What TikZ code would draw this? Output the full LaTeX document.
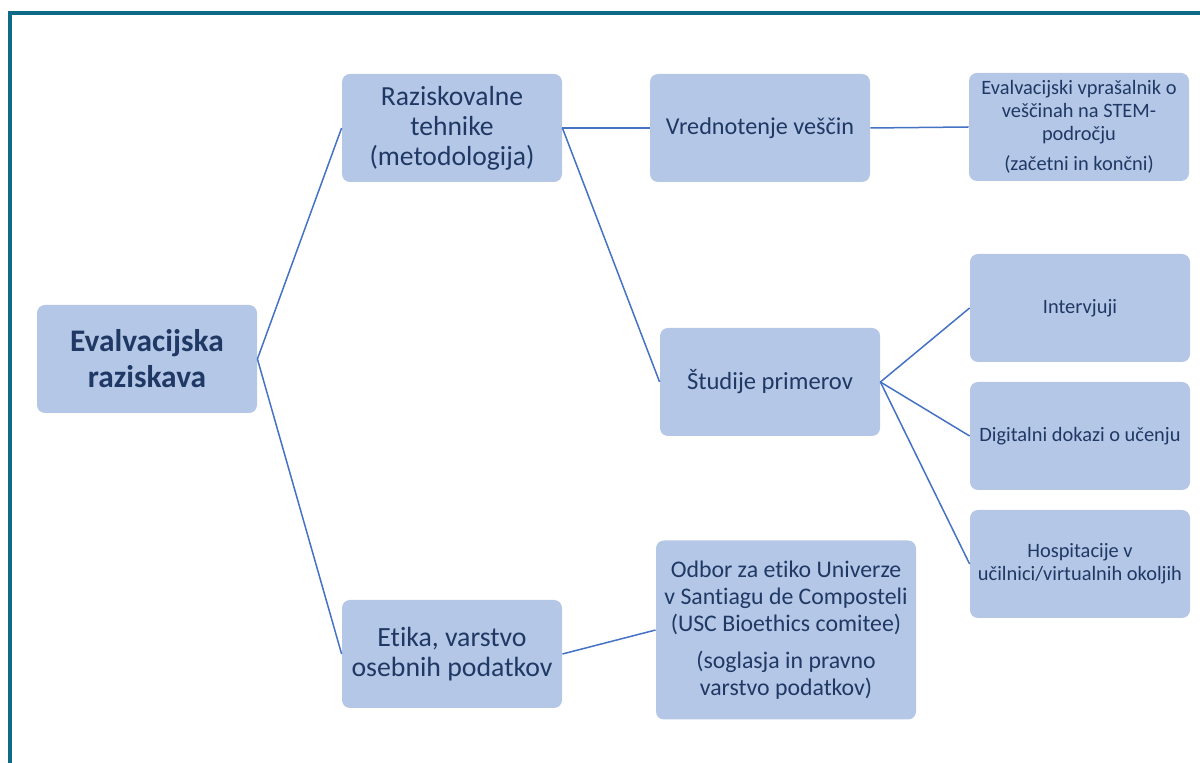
\documentclass[tikz,border=0pt]{standalone}
\usepackage{fontspec}
\setmainfont{Carlito}[Ligatures=NoCommon]
\usetikzlibrary{positioning}
\definecolor{boxfill}{HTML}{B4C7E7}
\definecolor{navy}{HTML}{1F3864}
\definecolor{linkblue}{HTML}{4472C4}
\definecolor{framecol}{HTML}{0E6A86}

\begin{document}
\begin{tikzpicture}[x=0.5pt, y=-0.5pt,
    box/.style={fill=boxfill, text=navy, rounded corners=4pt, align=center, minimum width=110pt, minimum height=54pt, inner sep=2pt, font=\fontsize{12.1}{15}\selectfont},
    smallbox/.style={box, font=\fontsize{10.2}{11.4}\selectfont},
    link/.style={linkblue, line width=0.75pt}]
        \useasboundingbox (0,0) rectangle (1200,763);
        \draw[framecol, line width=2pt] (1200,13) -- (10,13) -- (10,763);
        \node[box, font=\fontsize{15.7}{18}\selectfont\bfseries] (root) at (147,359) {Evalvacijska\\raziskava};
        \node[box, font=\fontsize{13.8}{15}\selectfont] (methods) at (452,128) {Raziskovalne\\tehnike\\(metodologija)};
        \node[box, font=\fontsize{13.9}{15}\selectfont] (ethics) at (452,654) {Etika, varstvo\\osebnih podatkov};
        \node[box] (skills) at (760,128) {Vrednotenje veščin};
        \node[box, font=\fontsize{12.3}{15}\selectfont] (cases) at (770,382) {Študije primerov};
        \node[box, minimum width=130pt, minimum height=89.5pt, font=\fontsize{11.9}{13.5}\selectfont] (board) at (786,630) {Odbor za etiko Univerze\\v Santiagu de Composteli\\(USC Bioethics comitee)\\[5pt](soglasja in pravno\\varstvo podatkov)};
        \node[smallbox] (survey) at (1079,127) {Evalvacijski vprašalnik o\\veščinah na STEM-\\področju\\[4pt](začetni in končni)};
        \node[smallbox] (interviews) at (1080,308) {Intervjuji};
        \node[smallbox] (evidence) at (1080,436) {Digitalni dokazi o učenju};
        \node[smallbox] (visits) at (1080,564) {Hospitacije v\\učilnici/virtualnih okoljih};
        \foreach \x/\y in {root/methods,root/ethics,methods/skills,methods/cases,skills/survey,cases/interviews,cases/evidence,cases/visits,ethics/board}{\draw[link] (\x.east) -- (\y.west);}
      \end{tikzpicture}
\end{document}
